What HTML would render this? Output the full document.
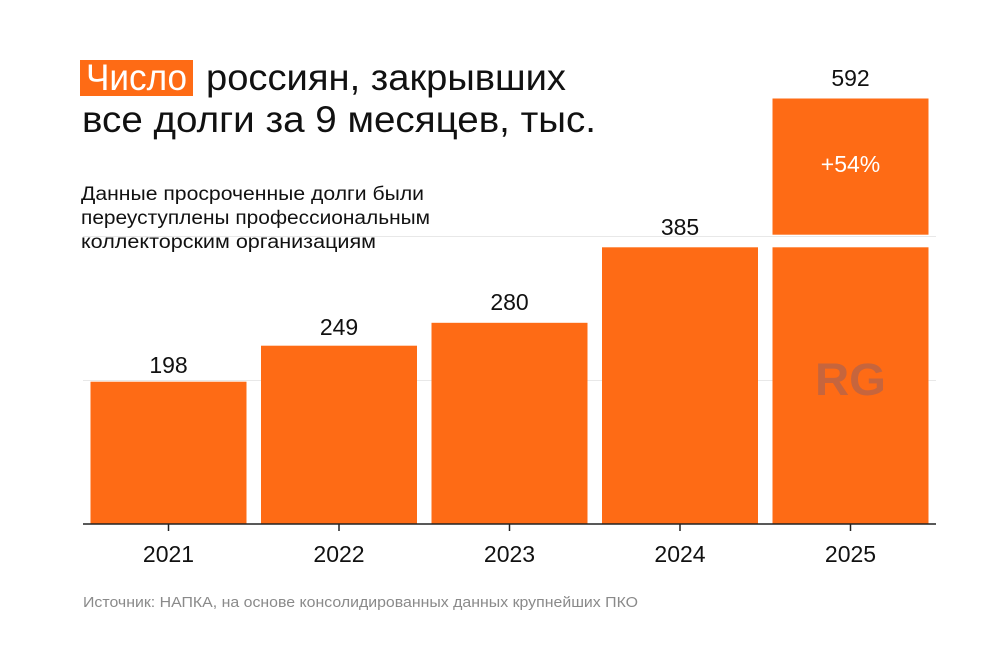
<!DOCTYPE html>
<html><head><meta charset="utf-8"><style>
html,body{margin:0;padding:0;background:#fff;}
svg{display:block;}
text{font-family:"Liberation Sans",sans-serif;}
</style></head><body>
<svg width="1000" height="667" viewBox="0 0 1000 667" xmlns="http://www.w3.org/2000/svg">
<rect x="0" y="0" width="1000" height="667" fill="#fff"/>
<!-- title -->
<rect x="80" y="60" width="113" height="36" fill="#fe6b15"/>
<text x="86" y="90" font-size="37" fill="#fff" textLength="101" lengthAdjust="spacingAndGlyphs">Число</text>
<text x="206" y="90" font-size="37" fill="#111" textLength="360" lengthAdjust="spacingAndGlyphs">россиян, закрывших</text>
<text x="82" y="132" font-size="37" fill="#111" textLength="514" lengthAdjust="spacingAndGlyphs">все долги за 9 месяцев, тыс.</text>
<!-- subtitle -->
<text x="81" y="200" font-size="19" fill="#111" textLength="343" lengthAdjust="spacingAndGlyphs">Данные просроченные долги были</text>
<text x="81" y="224" font-size="19" fill="#111" textLength="349" lengthAdjust="spacingAndGlyphs">переуступлены профессиональным</text>
<text x="81" y="248" font-size="19" fill="#111" textLength="295" lengthAdjust="spacingAndGlyphs">коллекторским организациям</text>
<!-- gridlines -->
<line x1="83" y1="380.5" x2="936" y2="380.5" stroke="#e8e8e8" stroke-width="1"/>
<line x1="83" y1="236.5" x2="936" y2="236.5" stroke="#e8e8e8" stroke-width="1"/>
<!-- bars -->
<g fill="#fe6b15">
<rect x="90.5" y="381.7" width="156" height="142.3"/>
<rect x="261" y="345.7" width="156" height="178.3"/>
<rect x="431.5" y="322.8" width="156" height="201.2"/>
<rect x="602" y="247.3" width="156" height="276.7"/>
<rect x="772.5" y="247.3" width="156" height="276.7"/>
<rect x="772.5" y="98.5" width="156" height="136.2"/>
</g>
<!-- RG logo -->
<text x="815" y="395" font-size="45" font-weight="bold" fill="#c6653d" textLength="71" lengthAdjust="spacingAndGlyphs">RG</text>
<!-- value labels -->
<g font-size="23" fill="#111" text-anchor="middle">
<text x="168.5" y="373">198</text>
<text x="339" y="335">249</text>
<text x="509.5" y="310">280</text>
<text x="680" y="235">385</text>
<text x="850.5" y="86">592</text>
</g>
<text x="850.5" y="172" font-size="23" fill="#fff" text-anchor="middle">+54%</text>
<!-- axis -->
<line x1="83" y1="524" x2="936" y2="524" stroke="#222" stroke-width="1.5"/>
<g stroke="#222" stroke-width="1.5">
<line x1="168.5" y1="524" x2="168.5" y2="531"/>
<line x1="339" y1="524" x2="339" y2="531"/>
<line x1="509.5" y1="524" x2="509.5" y2="531"/>
<line x1="680" y1="524" x2="680" y2="531"/>
<line x1="850.5" y1="524" x2="850.5" y2="531"/>
</g>
<g font-size="23" fill="#111" text-anchor="middle">
<text x="168.5" y="562">2021</text>
<text x="339" y="562">2022</text>
<text x="509.5" y="562">2023</text>
<text x="680" y="562">2024</text>
<text x="850.5" y="562">2025</text>
</g>
<!-- source -->
<text x="83" y="607" font-size="15" fill="#8a8a8a" textLength="555" lengthAdjust="spacingAndGlyphs">Источник: НАПКА, на основе консолидированных данных крупнейших ПКО</text>
</svg>
</body></html>
